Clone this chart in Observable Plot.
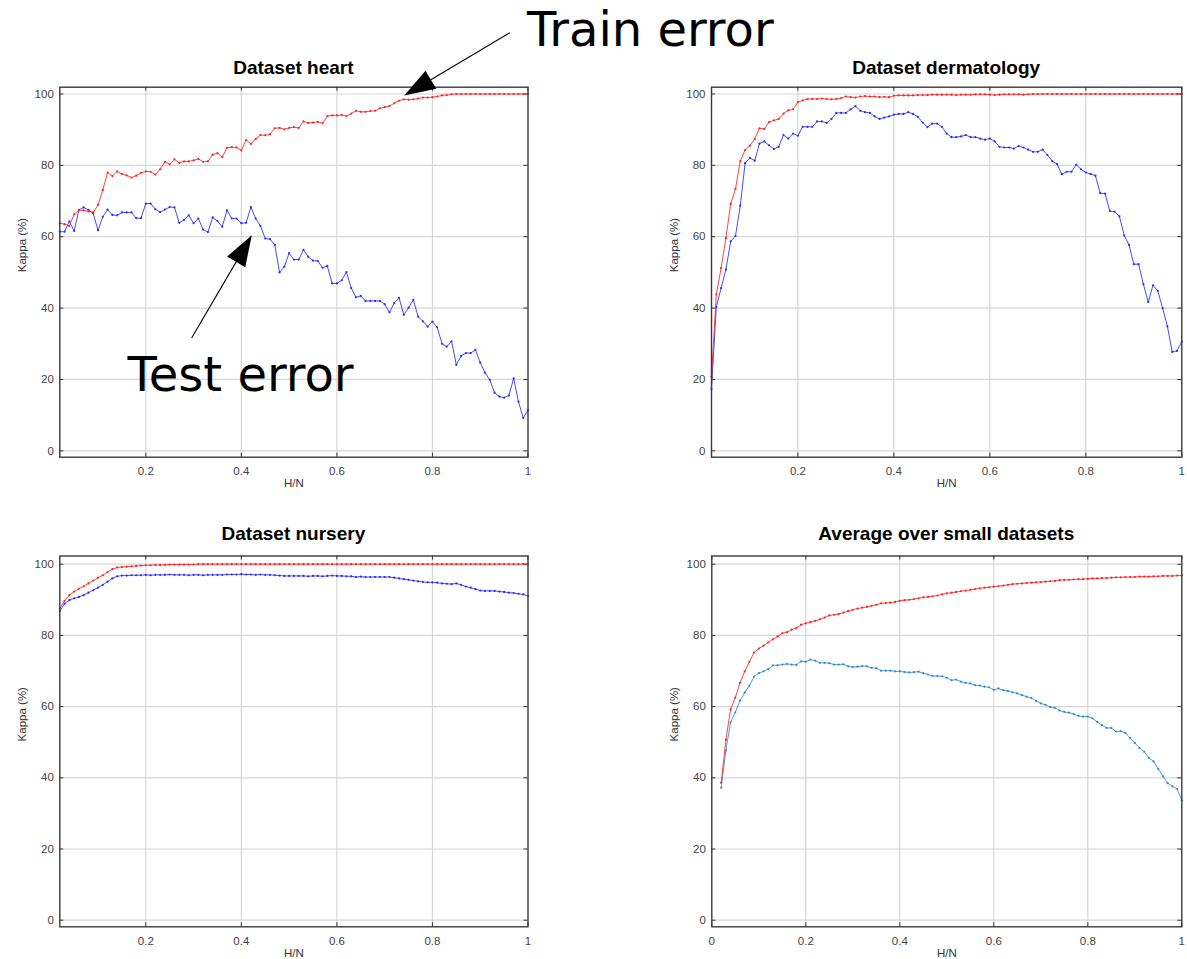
<!DOCTYPE html>
<html><head><meta charset="utf-8">
<script src="https://cdn.jsdelivr.net/npm/d3@7"></script>
<script src="https://cdn.jsdelivr.net/npm/@observablehq/plot@0.6"></script>
<style>
html,body{margin:0;padding:0;background:#fff;}
#root{position:relative;width:1187px;height:959px;overflow:hidden;background:#fff;}
.panel{position:absolute;}
.title{position:absolute;width:460px;text-align:center;font-family:"Liberation Sans",Arial,sans-serif;font-weight:bold;font-size:19px;line-height:19px;color:#000;white-space:nowrap;}
</style></head><body><div id="root"></div>
<script>
// H/N values (x axis), shared by all series
const hn = [0.02,0.03,0.04,0.05,0.06,0.07,0.08,0.09,0.10,0.11,
0.12,0.13,0.14,0.15,0.16,0.17,0.18,0.19,0.20,0.21,
0.22,0.23,0.24,0.25,0.26,0.27,0.28,0.29,0.30,0.31,
0.32,0.33,0.34,0.35,0.36,0.37,0.38,0.39,0.40,0.41,
0.42,0.43,0.44,0.45,0.46,0.47,0.48,0.49,0.50,0.51,
0.52,0.53,0.54,0.55,0.56,0.57,0.58,0.59,0.60,0.61,
0.62,0.63,0.64,0.65,0.66,0.67,0.68,0.69,0.70,0.71,
0.72,0.73,0.74,0.75,0.76,0.77,0.78,0.79,0.80,0.81,
0.82,0.83,0.84,0.85,0.86,0.87,0.88,0.89,0.90,0.91,
0.92,0.93,0.94,0.95,0.96,0.97,0.98,0.99,1.00];

const heartTrain = [63.8,63.5,63.0,66.3,67.4,67.4,67.1,66.8,68.9,73.1,
78.0,77.0,78.3,77.6,77.2,76.6,77.1,77.9,78.3,78.2,
77.4,78.9,81.0,80.3,81.7,80.7,81.1,81.1,81.4,81.8,
81.0,81.1,83.0,83.4,82.3,84.9,85.1,85.0,84.2,87.1,
86.0,87.4,88.5,88.4,88.7,90.4,90.5,90.1,90.5,90.7,
90.5,92.3,91.9,92.0,92.2,91.8,93.8,94.0,94.0,94.1,
93.8,94.5,95.3,95.0,95.0,95.2,95.3,96.0,96.3,96.6,
97.4,98.1,98.5,98.4,98.5,98.7,99.0,99.0,99.1,99.3,
99.6,99.7,99.9,100,100,100,100,100,100,100,
100,100,100,100,100,100,100,100,100];
const heartTest = [61.4,61.4,64.3,61.6,67.5,68.2,67.5,66.5,61.8,65.6,
67.6,66.1,66.0,66.8,66.8,66.8,65.2,65.2,69.3,69.3,
67.7,66.9,67.6,68.3,68.2,63.9,64.7,66.0,63.8,65.1,
62.0,61.3,65.4,64.4,62.8,67.4,65.1,65.1,63.8,63.9,
68.3,65.1,63.0,59.5,59.3,57.7,50.0,51.6,55.4,53.6,
53.6,56.3,54.4,53.3,53.2,51.3,51.8,46.9,46.9,47.8,
50.1,45.6,43.0,43.4,42.0,42.0,42.0,42.0,41.1,38.8,
41.4,42.9,38.1,40.1,42.3,37.6,36.3,34.8,36.2,34.6,
30.0,29.2,30.7,24.1,26.6,27.4,27.4,28.3,24.7,21.9,
19.9,16.3,15.2,14.9,15.5,20.3,13.8,9.2,11.5];

const dermTrain = [20.8,43.8,51.2,59.6,69.2,73.4,81.2,84.3,85.5,87.4,
90.4,90.2,92.1,92.6,93.0,94.5,95.4,95.7,97.7,98.2,
98.6,98.6,98.6,98.7,98.6,98.5,98.6,98.8,99.3,99.1,
99.0,99.3,99.4,99.3,99.3,99.1,99.2,99.1,99.5,99.6,
99.6,99.6,99.6,99.7,99.7,99.7,99.8,99.8,99.8,99.8,
99.8,99.7,99.8,99.8,99.8,99.9,99.9,99.9,99.8,99.7,
99.8,99.9,99.9,99.9,99.9,99.8,99.9,100,100,100,
100,100,100,100,100,100,100,100,100,100,
100,100,100,100,100,100,100,100,100,100,
100,100,100,100,100,100,100,100,100];
const dermTest = [17.4,40.3,45.6,50.8,58.7,60.2,68.7,80.6,82.1,81.3,
86.1,86.7,85.6,84.6,85.2,88.5,87.5,88.9,88.3,90.8,
90.8,90.8,92.3,92.3,91.9,93.0,94.7,94.7,94.7,95.7,
96.6,95.3,94.9,94.7,93.7,93.0,93.4,93.7,94.2,94.4,
94.4,94.9,94.4,93.6,92.0,90.7,91.7,91.7,90.8,88.9,
87.9,87.9,88.1,88.5,87.9,87.9,87.5,87.2,87.5,86.7,
85.2,85.0,85.0,84.7,85.4,85.0,84.4,83.8,83.8,84.4,
82.9,81.2,80.4,77.5,78.2,78.2,80.2,78.9,78.0,77.6,
77.1,72.2,72.1,67.2,67.0,65.7,60.4,57.7,52.3,52.3,
46.7,41.7,46.4,44.8,40.0,34.9,27.7,28.0,30.6];

const nurseryTrain = [87.6,89.7,91.3,92.3,93.1,93.8,94.6,95.4,96.2,96.9,
97.8,98.6,99.1,99.2,99.3,99.4,99.5,99.6,99.7,99.7,
99.8,99.8,99.8,99.9,99.9,99.9,99.9,99.9,99.9,100,
100,100,100,100,100,100,100,100,100,100,
100,100,100,100,100,100,100,100,100,100,
100,100,100,100,100,100,100,100,100,100,
100,100,100,100,100,100,100,100,100,100,
100,100,100,100,100,100,100,100,100,100,
100,100,100,100,100,100,100,100,100,100,
100,100,100,100,100,100,100,100,100];
const nurseryTest = [86.9,88.9,89.9,90.4,90.8,91.3,92.0,92.7,93.4,94.2,
95.1,96.0,96.6,96.8,96.8,96.9,96.9,96.9,97.0,96.9,
97.0,97.0,97.0,97.1,97.0,97.0,97.0,96.9,97.0,97.0,
96.9,97.0,97.0,97.0,97.0,97.1,97.1,97.1,97.2,97.1,
97.1,97.0,97.1,97.0,97.0,96.9,96.8,96.7,96.7,96.7,
96.7,96.7,96.6,96.7,96.7,96.6,96.7,96.8,96.7,96.7,
96.6,96.6,96.4,96.5,96.4,96.4,96.4,96.4,96.4,96.4,
96.2,96.0,95.8,95.6,95.4,95.2,95.0,94.9,94.9,94.8,
94.6,94.5,94.4,94.6,94.2,93.7,93.4,93.0,92.6,92.5,
92.5,92.5,92.3,92.2,92.0,91.9,91.7,91.5,91.1];

const avgTrain = [38.6,50.7,59.2,62.5,66.7,69.9,72.6,75.2,76.3,77.1,
78.0,78.9,79.7,80.6,80.9,81.6,82.1,83.0,83.4,83.7,
84.1,84.5,85.0,85.6,85.8,86.0,86.4,86.8,87.2,87.5,
87.8,88.0,88.3,88.6,89.0,89.1,89.2,89.4,89.7,89.9,
90.0,90.2,90.4,90.7,90.8,91.0,91.2,91.5,91.8,92.0,
92.2,92.4,92.6,92.8,93.0,93.2,93.4,93.5,93.7,93.8,
94.0,94.2,94.4,94.5,94.6,94.7,94.8,94.9,95.0,95.1,
95.2,95.3,95.5,95.6,95.6,95.7,95.8,95.8,95.9,96.0,
96.0,96.1,96.1,96.2,96.3,96.3,96.4,96.4,96.4,96.5,
96.5,96.5,96.6,96.6,96.7,96.7,96.7,96.8,96.8];
const avgTest = [37.2,47.7,55.6,58.4,61.7,63.9,65.9,68.4,69.4,69.9,
70.5,71.6,71.6,71.8,72.0,71.8,71.7,72.7,72.6,73.2,
72.9,72.3,72.3,72.2,71.8,71.8,71.9,71.3,71.1,71.2,
71.4,71.3,70.9,70.8,70.1,70.1,70.1,69.9,69.9,69.7,
69.6,69.7,69.8,69.4,69.0,68.6,68.6,68.5,68.1,67.4,
67.6,67.0,66.7,66.5,66.0,65.9,65.6,65.4,64.7,65.1,
64.6,64.4,64.0,63.7,63.2,62.8,62.4,61.6,60.9,60.5,
59.9,59.6,58.9,58.5,58.3,57.9,57.4,57.2,57.2,56.7,
55.7,54.8,54.0,54.0,53.0,53.1,52.6,51.2,49.8,48.4,
47.3,45.6,44.6,42.5,40.4,38.5,37.6,36.9,33.6];

const yTicks = [0, 20, 40, 60, 80, 100];
const xTicksA = [0.2, 0.4, 0.6, 0.8, 1];
const xTicksB = [0, 0.2, 0.4, 0.6, 0.8, 1];
const titles = ["Dataset heart", "Dataset dermatology", "Dataset nursery", "Average over small datasets"];
const yLabel = "Kappa (%)";
const xLabel = "H/N";

// annotations (data units of the heart panel): [tailX, tailY, tipX, tipY]
const annoLabels = ["Train error", "Test error"];
const annoArrows = [[0.963, 117.0, 0.742, 99.4], [0.297, 31.5, 0.423, 60.3]];
const annoText = [[0.999, 113.2], [0.163, 16.6]];

const RED = "#ff2323", BLUE = "#2a2aff", LBLUE = "#2d8bd3";

function rows(ys) { return hn.map((x, i) => ({x, y: ys[i]})).filter(d => d.y != null); }

function annotationMark(index, scales) {
  const g = d3.create("svg:g");
  annoArrows.forEach(([x1, y1, x2, y2]) => {
    const sx = scales.x(x1), sy = scales.y(y1), tx = scales.x(x2), ty = scales.y(y2);
    const dx = tx - sx, dy = ty - sy, len = Math.hypot(dx, dy);
    const ux = dx / len, uy = dy / len, L = 31, W = 21;
    const bx = tx - ux * L, by = ty - uy * L;
    g.append("line").attr("x1", sx).attr("y1", sy).attr("x2", bx).attr("y2", by)
      .attr("stroke", "#000").attr("stroke-width", 1.1);
    g.append("path")
      .attr("d", `M${tx},${ty}L${bx - uy * W / 2},${by + ux * W / 2}L${bx + uy * W / 2},${by - ux * W / 2}Z`)
      .attr("fill", "#000");
  });
  annoText.forEach(([x, y], i) => {
    g.append("text").attr("x", scales.x(x)).attr("y", scales.y(y))
      .attr("text-anchor", "start")
      .attr("font-family", "DejaVu Sans, sans-serif").attr("font-size", 48).attr("fill", "#000")
      .text(annoLabels[i]);
  });
  return g.node();
}

const panels = [
  {left: 0, top: 0, width: 800, height: 500, fx: [59.3, 527.5], fy: [86.7, 456.7], xd: [0.02, 1], yd: [-1.79, 101.9], xt: xTicksA, train: heartTrain, test: heartTest, tc: BLUE, title: titles[0], titleTop: 57.5, anno: true},
  {left: 600, top: 0, width: 587, height: 500, fx: [711, 1181.3], fy: [86.7, 456.7], xd: [0.02, 1], yd: [-1.79, 101.9], xt: xTicksA, train: dermTrain, test: dermTest, tc: BLUE, title: titles[1], titleTop: 57.5},
  {left: 0, top: 470, width: 600, height: 489, fx: [59.3, 527.5], fy: [555.5, 926.3], xd: [0.02, 1], yd: [-1.85, 102.3], xt: xTicksA, train: nurseryTrain, test: nurseryTest, tc: BLUE, title: titles[2], titleTop: 523.5},
  {left: 600, top: 470, width: 587, height: 489, fx: [711.3, 1181.3], fy: [555.5, 926.3], xd: [0, 1], yd: [-1.85, 102.3], xt: xTicksB, train: avgTrain, test: avgTest, tc: LBLUE, title: titles[3], titleTop: 523.5}
];

const root = document.getElementById("root");
const order = [1, 3, 2, 0];
order.forEach(k => {
  const p = panels[k];
  const mL = p.fx[0] - p.left, mR = p.left + p.width - p.fx[1];
  const mT = p.fy[0] - p.top, mB = p.top + p.height - p.fy[1];
  const fw = p.fx[1] - p.fx[0], fh = p.fy[1] - p.fy[0];
  const tickCol = "#333", T = 4;
  const marks = [
    Plot.gridX(p.xt.filter(v => v > p.xd[0] && v < 1), {stroke: "#d6d6d6", strokeOpacity: 1, strokeWidth: 1.2}),
    Plot.gridY(yTicks, {stroke: "#d6d6d6", strokeOpacity: 1, strokeWidth: 1.2}),
    Plot.ruleX(p.xt, {x: d => d, insetTop: fh - T, stroke: tickCol, strokeWidth: 1}),
    Plot.ruleX(p.xt, {x: d => d, insetBottom: fh - T, stroke: tickCol, strokeWidth: 1}),
    Plot.ruleY(yTicks, {y: d => d, insetRight: fw - T, stroke: tickCol, strokeWidth: 1}),
    Plot.ruleY(yTicks, {y: d => d, insetLeft: fw - T, stroke: tickCol, strokeWidth: 1}),
    Plot.axisX(p.xt, {tickSize: 0, tickPadding: 10, tickFormat: d => String(d), label: null, fill: "#444", fontSize: 11.5}),
    Plot.axisY(yTicks, {tickSize: 0, tickPadding: 6, tickFormat: d => String(d), label: null, fill: "#444", fontSize: 11.5}),
    Plot.line(rows(p.test), {x: "x", y: "y", stroke: p.tc, strokeWidth: 1, strokeOpacity: 0.85}),
    Plot.dot(rows(p.test), {x: "x", y: "y", r: 1.1, fill: p.tc, stroke: "none"}),
    Plot.line(rows(p.train), {x: "x", y: "y", stroke: RED, strokeWidth: 1, strokeOpacity: 0.85}),
    Plot.dot(rows(p.train), {x: "x", y: "y", r: 1.1, fill: RED, stroke: "none"}),
    Plot.frame({stroke: "#3a3a3a", strokeWidth: 1.4}),
    Plot.text([yLabel], {frameAnchor: "left", dx: -37, rotate: -90, fill: "#333", fontSize: 11.5}),
    Plot.text([xLabel], {frameAnchor: "bottom", dy: 30, fill: "#333", fontSize: 11.5})
  ];
  if (p.anno) marks.push(annotationMark);
  const chart = Plot.plot({
    width: p.width, height: p.height,
    marginLeft: mL, marginRight: mR, marginTop: mT, marginBottom: mB,
    x: {domain: p.xd, axis: null},
    y: {domain: p.yd, axis: null},
    style: {background: "transparent", overflow: "visible", fontFamily: "Liberation Sans, Arial, sans-serif", fontSize: "11.5px"},
    marks
  });
  chart.classList.add("panel");
  chart.style.left = p.left + "px";
  chart.style.top = p.top + "px";
  chart.style.maxWidth = "none";
  root.appendChild(chart);
  const t = document.createElement("div");
  t.className = "title";
  t.textContent = p.title;
  t.style.left = ((p.fx[0] + p.fx[1]) / 2 - 230) + "px";
  t.style.top = p.titleTop + "px";
  root.appendChild(t);
});
</script></body></html>
